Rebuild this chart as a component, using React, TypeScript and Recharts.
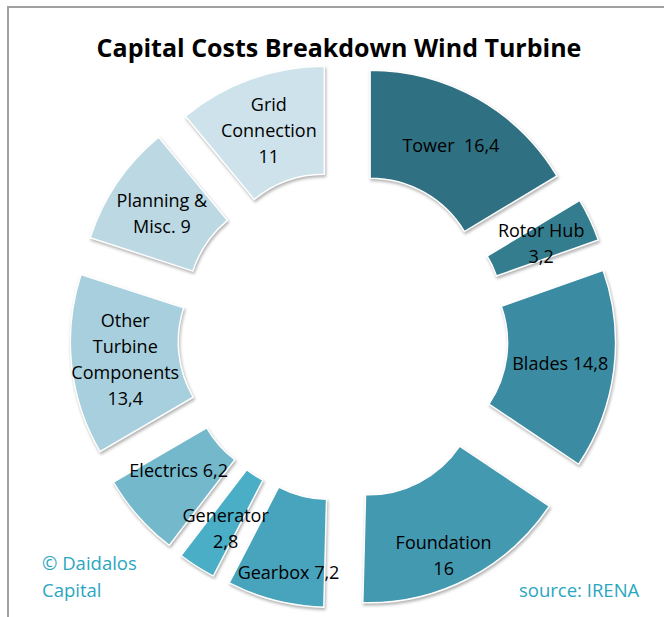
import React from 'react';
import { PieChart, Pie, Cell, Sector } from 'recharts';

const categories = ['Tower', 'Rotor Hub', 'Blades', 'Foundation', 'Gearbox', 'Generator', 'Electrics', 'Other Turbine Components', 'Planning & Misc.', 'Grid Connection'];
const values = [16.4, 3.2, 14.8, 16, 7.2, 2.8, 6.2, 13.4, 9, 11];
const labelLines = [
  ['Tower  16,4'],
  ['Rotor Hub', '3,2'],
  ['Blades 14,8'],
  ['Foundation', '16'],
  ['Gearbox 7,2'],
  ['Generator', '2,8'],
  ['Electrics 6,2'],
  ['Other', 'Turbine', 'Components', '13,4'],
  ['Planning &', 'Misc. 9'],
  ['Grid', 'Connection', '11'],
];
const colors = ['#2f7182', '#347d8f', '#3b8ca2', '#4399b0', '#48a4bc', '#4aaec7', '#74b8cc', '#a8cfdd', '#bbd8e3', '#cde2ea'];

const data = categories.map((name, i) => ({ name, value: values[i] }));

const EXPLODE = 55;
const RAD = Math.PI / 180;
const FONT = '"Open Sans", "Liberation Sans", sans-serif';
const labelNudge: Record<number, number> = { 3: 24, 4: 24, 5: 7, 6: -11 };

const ExplodedSector = (props: any) => {
  const { cx, cy, midAngle } = props;
  const dx = EXPLODE * Math.cos(midAngle * RAD);
  const dy = -EXPLODE * Math.sin(midAngle * RAD);
  return (
    <Sector
      {...props}
      cx={cx + dx}
      cy={cy + dy}
      style={{ filter: 'drop-shadow(1px 2px 1.5px rgba(0,0,0,0.3))' }}
    />
  );
};

const renderLabel = (props: any) => {
  const { cx, cy, midAngle, innerRadius, outerRadius, index } = props;
  const dx = EXPLODE * Math.cos(midAngle * RAD);
  const dy = -EXPLODE * Math.sin(midAngle * RAD);
  const r = (innerRadius + outerRadius) / 2;
  const x = cx + dx + r * Math.cos(midAngle * RAD);
  const y = cy + dy - r * Math.sin(midAngle * RAD) + (labelNudge[index] || 0);
  const lines = labelLines[index];
  const lh = 26;
  const y0 = y - ((lines.length - 1) * lh) / 2;
  return (
    <text x={x} y={y0} textAnchor="middle" dominantBaseline="central" fill="#000" fontSize={18} fontFamily={FONT} style={{ whiteSpace: 'pre' }}>
      {lines.map((l, i) => (
        <tspan key={i} x={x} y={y0 + i * lh}>
          {l}
        </tspan>
      ))}
    </text>
  );
};

export default function App() {
  return (
    <div style={{ position: 'absolute', left: 0, top: 0, width: 664, height: 617, overflow: 'hidden', background: '#fff' }}>
      <div style={{ position: 'absolute', left: 7, top: 6, width: 700, height: 700, borderTop: '2px solid #a0a0a0', borderLeft: '2px solid #a0a0a0' }} />
      <div style={{ position: 'absolute', left: 0, top: 0 }}>
        <PieChart width={664} height={617} margin={{ top: 0, right: 0, bottom: 0, left: 0 }}>
          <Pie
            data={data}
            dataKey="value"
            nameKey="name"
            cx={343}
            cy={336}
            innerRadius={110}
            outerRadius={218}
            startAngle={90}
            endAngle={-270}
            stroke="#ffffff"
            strokeWidth={1.5}
            shape={ExplodedSector}
            label={renderLabel}
            labelLine={false}
            isAnimationActive={false}
          >
            {data.map((d, i) => (
              <Cell key={d.name} fill={colors[i]} />
            ))}
          </Pie>
        </PieChart>
      </div>
      <div style={{ position: 'absolute', left: 0, width: 678, top: 28, textAlign: 'center', fontFamily: FONT, fontWeight: 700, fontSize: 25, lineHeight: '38px', color: '#000' }}>
        Capital Costs Breakdown Wind Turbine
      </div>
      <div style={{ position: 'absolute', left: 42, top: 549, fontFamily: FONT, fontSize: 18.5, lineHeight: '27px', color: '#2ba6c1' }}>
        © Daidalos<br />Capital
      </div>
      <div style={{ position: 'absolute', left: 519, top: 576, fontFamily: FONT, fontSize: 18.5, lineHeight: '27px', color: '#2ba6c1' }}>
        source: IRENA
      </div>
    </div>
  );
}
